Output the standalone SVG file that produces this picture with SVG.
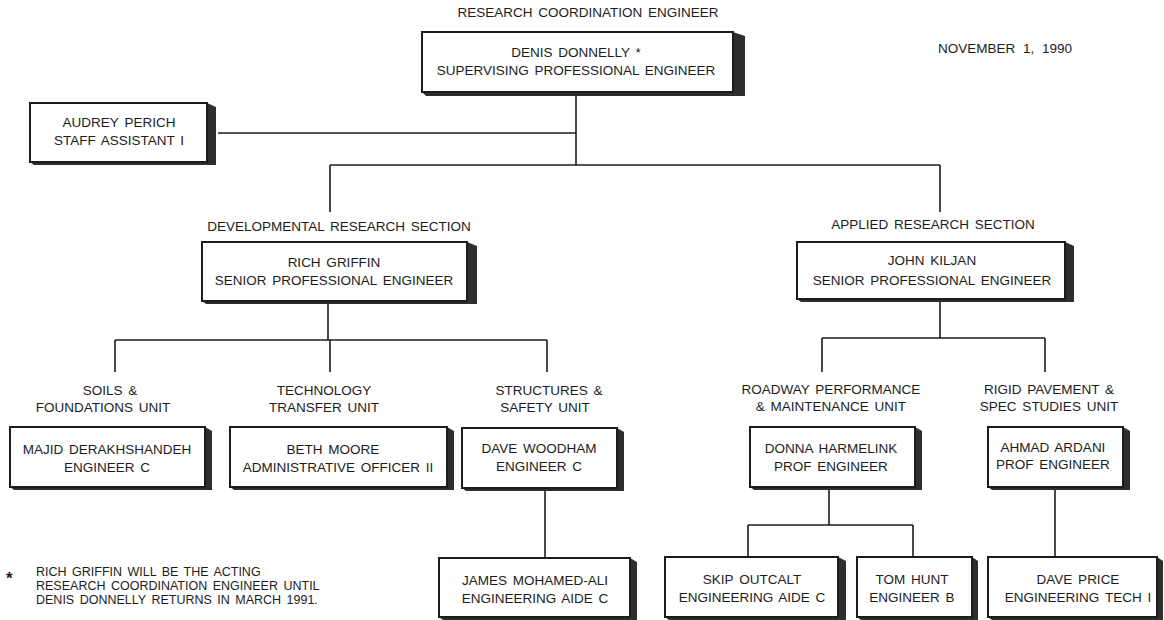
<svg xmlns="http://www.w3.org/2000/svg" width="1164" height="620" viewBox="0 0 1164 620">
<style>
.bg{fill:#ffffff}
.box{fill:#ffffff;stroke:#1c1c1c;stroke-width:2}
.sh{fill:#2e2e2e}
.t{font-family:"Liberation Sans",Arial,sans-serif;font-size:13.5px;fill:#1c1c1c;text-anchor:middle;word-spacing:2px}
.fn{font-family:"Liberation Sans",Arial,sans-serif;font-size:12.5px;fill:#1c1c1c;word-spacing:2px}
.star{font-family:"Liberation Sans",Arial,sans-serif;font-size:17px;font-weight:bold;fill:#1c1c1c}
.c{stroke:#1c1c1c;stroke-width:1.6;fill:none}
</style>
<rect class="bg" x="0" y="0" width="1164" height="620"/>

<g id="connectors">
<path class="c" d="M576 93 V165 M218 133 H576 M330 165 H940 M330 165 V212 M940 165 V212"/>
<path class="c" d="M328 303 V340 M115 340 H547 M115 340 V372 M330 340 V372 M547 340 V372"/>
<path class="c" d="M940 300 V338 M822 338 H1045 M822 338 V372 M1045 338 V372"/>
<path class="c" d="M545 490 V558"/>
<path class="c" d="M829 490 V525 M748 525 H913 M748 525 V557 M913 525 V557"/>
<path class="c" d="M1055 490 V557"/>
</g>

<g id="labels">
<text class="t" x="588" y="17">RESEARCH COORDINATION ENGINEER</text>
<text class="t" x="1005" y="53" style="word-spacing:4px">NOVEMBER 1, 1990</text>
<text class="t" x="339" y="231">DEVELOPMENTAL RESEARCH SECTION</text>
<text class="t" x="933" y="229">APPLIED RESEARCH SECTION</text>
<text class="t" x="110" y="395">SOILS &amp;</text>
<text class="t" x="103" y="412">FOUNDATIONS UNIT</text>
<text class="t" x="324" y="395">TECHNOLOGY</text>
<text class="t" x="324" y="412">TRANSFER UNIT</text>
<text class="t" x="549" y="395">STRUCTURES &amp;</text>
<text class="t" x="545" y="412">SAFETY UNIT</text>
<text class="t" x="831" y="394">ROADWAY PERFORMANCE</text>
<text class="t" x="831" y="411">&amp; MAINTENANCE UNIT</text>
<text class="t" x="1049" y="394">RIGID PAVEMENT &amp;</text>
<text class="t" x="1049" y="411">SPEC STUDIES UNIT</text>
</g>

<g id="node-donnelly">
<path class="sh" d="M733 32 L745 36 V96 H426 L422 92 Z"/>
<rect class="box" x="422" y="32" width="311" height="60"/>
<text class="t" x="576" y="57">DENIS DONNELLY *</text>
<text class="t" x="576" y="75">SUPERVISING PROFESSIONAL ENGINEER</text>
</g>

<g id="node-perich">
<path class="sh" d="M207 103 L216 107 V165 H34 L30 162 Z"/>
<rect class="box" x="30" y="103" width="177" height="59"/>
<text class="t" x="119" y="127">AUDREY PERICH</text>
<text class="t" x="119" y="145">STAFF ASSISTANT I</text>
</g>

<g id="node-griffin">
<path class="sh" d="M467 242 L477 246 V304 H206 L202 301 Z"/>
<rect class="box" x="202" y="242" width="265" height="59"/>
<text class="t" x="334" y="267">RICH GRIFFIN</text>
<text class="t" x="334" y="285">SENIOR PROFESSIONAL ENGINEER</text>
</g>

<g id="node-kiljan">
<path class="sh" d="M1065 242 L1074 246 V302 H801 L797 299 Z"/>
<rect class="box" x="797" y="242" width="268" height="57"/>
<text class="t" x="932" y="265">JOHN KILJAN</text>
<text class="t" x="932" y="285">SENIOR PROFESSIONAL ENGINEER</text>
</g>

<g id="node-derakhshandeh">
<path class="sh" d="M205 427 L212 431 V490 H14 L10 487 Z"/>
<rect class="box" x="10" y="427" width="195" height="60"/>
<text class="t" x="107" y="454">MAJID DERAKHSHANDEH</text>
<text class="t" x="107" y="472">ENGINEER C</text>
</g>

<g id="node-moore">
<path class="sh" d="M447 427 L454 431 V490 H234 L230 487 Z"/>
<rect class="box" x="230" y="427" width="217" height="60"/>
<text class="t" x="333" y="454">BETH MOORE</text>
<text class="t" x="338" y="472">ADMINISTRATIVE OFFICER II</text>
</g>

<g id="node-woodham">
<path class="sh" d="M617 428 L624 432 V491 H466 L462 488 Z"/>
<rect class="box" x="462" y="428" width="155" height="60"/>
<text class="t" x="539" y="453">DAVE WOODHAM</text>
<text class="t" x="539" y="471">ENGINEER C</text>
</g>

<g id="node-harmelink">
<path class="sh" d="M915 427 L922 431 V490 H754 L750 487 Z"/>
<rect class="box" x="750" y="427" width="165" height="60"/>
<text class="t" x="831" y="453">DONNA HARMELINK</text>
<text class="t" x="831" y="471">PROF ENGINEER</text>
</g>

<g id="node-ardani">
<path class="sh" d="M1123 427 L1130 431 V490 H992 L988 487 Z"/>
<rect class="box" x="988" y="427" width="135" height="60"/>
<text class="t" x="1053" y="452">AHMAD ARDANI</text>
<text class="t" x="1053" y="469">PROF ENGINEER</text>
</g>

<g id="node-mohamed-ali">
<path class="sh" d="M630 558 L637 562 V620 H443 L439 617 Z"/>
<rect class="box" x="439" y="558" width="191" height="59"/>
<text class="t" x="535" y="585">JAMES MOHAMED-ALI</text>
<text class="t" x="535" y="603">ENGINEERING AIDE C</text>
</g>

<g id="node-outcalt">
<path class="sh" d="M838 557 L846 561 V620 H669 L665 617 Z"/>
<rect class="box" x="665" y="557" width="173" height="60"/>
<text class="t" x="752" y="584">SKIP OUTCALT</text>
<text class="t" x="752" y="602">ENGINEERING AIDE C</text>
</g>

<g id="node-hunt">
<path class="sh" d="M972 557 L978 561 V620 H861 L857 617 Z"/>
<rect class="box" x="857" y="557" width="115" height="60"/>
<text class="t" x="912" y="584">TOM HUNT</text>
<text class="t" x="912" y="602">ENGINEER B</text>
</g>

<g id="node-price">
<path class="sh" d="M1157 557 L1163 561 V620 H992 L988 617 Z"/>
<rect class="box" x="988" y="557" width="169" height="60"/>
<text class="t" x="1078" y="584">DAVE PRICE</text>
<text class="t" x="1078" y="602">ENGINEERING TECH I</text>
</g>

<g id="footnote">
<text class="star" x="6" y="584">*</text>
<text class="fn" x="36" y="576">RICH GRIFFIN WILL BE THE ACTING</text>
<text class="fn" x="36" y="590">RESEARCH COORDINATION ENGINEER UNTIL</text>
<text class="fn" x="36" y="604">DENIS DONNELLY RETURNS IN MARCH 1991.</text>
</g>
</svg>
